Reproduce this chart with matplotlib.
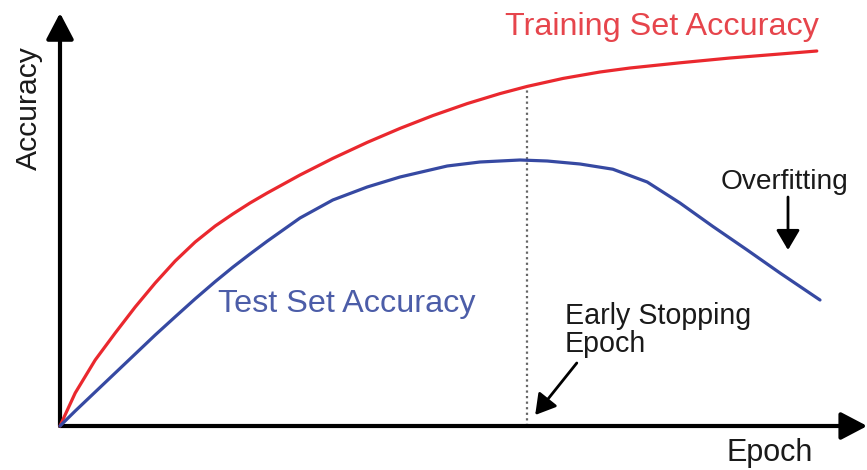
import matplotlib
matplotlib.use("Agg")
import matplotlib.pyplot as plt

# Training set accuracy curve (epoch, accuracy)
train_epoch = [0, 1.9, 4.4, 6.9, 9.4, 11.9, 14.4, 16.9, 19.4, 21.6, 23.75, 25.9, 30, 34.1,
               38.4, 42.5, 46.6, 50.9, 55, 58.4, 62.9, 67.5, 71.25, 77.5, 83.75, 90, 94.6]
train_acc = [0, 8.25, 16.5, 23.25, 29.75, 35.75, 41.25, 46, 50, 53, 55.75, 58.25, 62.75, 66.9,
             70.9, 74.4, 77.6, 80.6, 83.1, 84.9, 86.9, 88.5, 89.5, 90.8, 92, 93, 93.75]

# Test set accuracy curve
test_epoch = [0, 1.9, 4.4, 6.9, 9.4, 11.9, 14.4, 16.9, 19.4, 21.6, 23.75, 25.9, 30, 34.1,
              38.4, 42.5, 48.4, 52.5, 57.5, 60.9, 65, 69.1, 73.4, 77.5, 81.6, 85.9, 90, 95]
test_acc = [0, 3.75, 8.5, 13.25, 18, 22.75, 27.3, 31.8, 36.1, 39.7, 43, 46.2, 52, 56.5,
            59.75, 62.25, 65, 66, 66.5, 66.25, 65.5, 64.2, 61, 55.75, 49.9, 44, 38.25, 31.5]

early_stop_epoch = 58.4
early_stop_train_acc = 84.9

RED = "#ea282e"
BLUE = "#3649a2"
RED_TXT = "#e6454c"
BLUE_TXT = "#4c5da8"
BLACK = "#1a1a1a"
FONT = "Liberation Sans"

fig = plt.figure(figsize=(8.67, 4.70), dpi=100)
ax = fig.add_axes([0, 0, 1, 1])
ax.set_xlim(-7.5, 100.875)
ax.set_ylim(-11, 106.5)
ax.axis("off")

# axes with arrows
axis_style = dict(arrowstyle="-|>,head_length=0.8,head_width=0.42", color="black",
                  lw=3, shrinkA=0, shrinkB=0, mutation_scale=20)
ax.annotate("", xy=(0, 103.25), xytext=(0, 0), arrowprops=axis_style)
ax.annotate("", xy=(100.9, 0), xytext=(0, 0), arrowprops=axis_style)

# early stopping dotted line
ax.plot([early_stop_epoch, early_stop_epoch], [0, early_stop_train_acc],
        color="#666666", lw=1.6, ls=(0, (1, 1.5)), zorder=1)

# curves
ax.plot(train_epoch, train_acc, color=RED, lw=2.3, solid_capstyle="round",
        solid_joinstyle="round", zorder=3)
ax.plot(test_epoch, test_acc, color=BLUE, lw=2.3, solid_capstyle="round",
        solid_joinstyle="round", zorder=3)

# texts
ax.text(75.2, 97.75, "Training Set Accuracy", color=RED_TXT, fontsize=23.3,
        family=FONT, ha="center", va="baseline")
ax.text(19.8, 28.5, "Test Set Accuracy", color=BLUE_TXT, fontsize=23.3,
        family=FONT, ha="left", va="baseline")
ax.text(90.6, 59.25, "Overfitting", color=BLACK, fontsize=20.2, family=FONT,
        ha="center", va="baseline")
ax.text(63.1, 18.5, "Early Stopping\nEpoch", color=BLACK, fontsize=20.6, family=FONT,
        ha="left", va="baseline", linespacing=1.0)
ax.text(88.75, -8.75, "Epoch", color=BLACK, fontsize=22, family=FONT,
        ha="center", va="baseline")
ax.text(-2.9, 79.6, "Accuracy", color=BLACK, fontsize=21.7, family=FONT,
        ha="center", va="baseline", rotation=90, rotation_mode="anchor")

# annotation arrows
small_style = dict(arrowstyle="-|>,head_length=0.61,head_width=0.36", color="black",
                   lw=2, shrinkA=0, shrinkB=0, mutation_scale=20)
ax.annotate("", xy=(91, 44), xytext=(91, 57.25), arrowprops=small_style)
ax.annotate("", xy=(59.4, 2.75), xytext=(64.6, 15.75), arrowprops=small_style)

fig.savefig("out.png", dpi=100)
